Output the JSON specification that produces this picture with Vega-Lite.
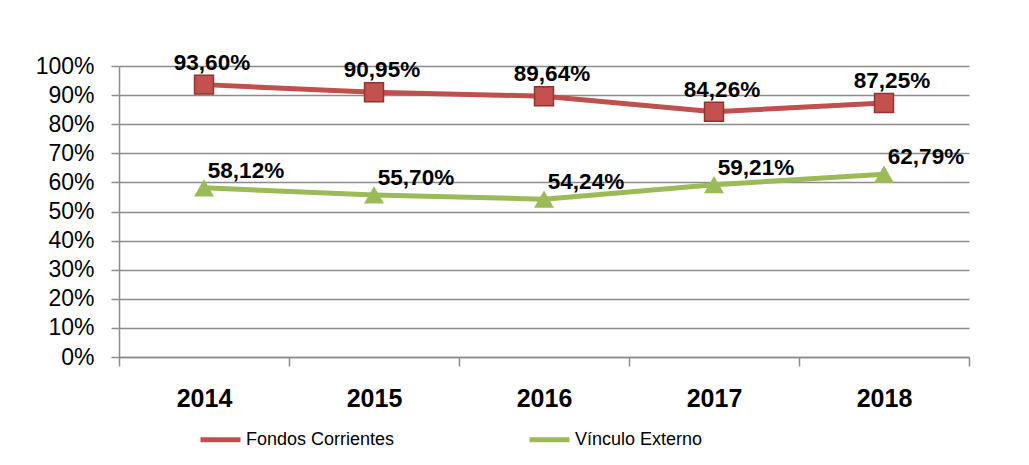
{
  "$schema": "https://vega.github.io/schema/vega-lite/v6.json",
  "width": 850,
  "height": 291,
  "autosize": {"type": "none"},
  "padding": {"left": 119, "top": 66, "right": 60, "bottom": 108},
  "background": "white",
  "config": {
    "locale": {"number": {"decimal": ",", "thousands": ".", "grouping": [3], "currency": ["", " €"]}},
    "view": {"stroke": null},
    "font": "Liberation Sans"
  },
  "data": {
    "values": [
      {"year": "2014", "series": "Fondos Corrientes", "value": 0.9360},
      {"year": "2015", "series": "Fondos Corrientes", "value": 0.9095},
      {"year": "2016", "series": "Fondos Corrientes", "value": 0.8964},
      {"year": "2017", "series": "Fondos Corrientes", "value": 0.8426},
      {"year": "2018", "series": "Fondos Corrientes", "value": 0.8725},
      {"year": "2014", "series": "Vínculo Externo", "value": 0.5812},
      {"year": "2015", "series": "Vínculo Externo", "value": 0.5570},
      {"year": "2016", "series": "Vínculo Externo", "value": 0.5424},
      {"year": "2017", "series": "Vínculo Externo", "value": 0.5921},
      {"year": "2018", "series": "Vínculo Externo", "value": 0.6279}
    ]
  },
  "encoding": {
    "x": {
      "field": "year", "type": "nominal",
      "scale": {"type": "band", "paddingInner": 0, "paddingOuter": 0},
      "axis": {
        "title": null, "labelAngle": 0, "tickBand": "extent", "grid": false,
        "domainColor": "#8c8c8c", "domainWidth": 1.5, "tickColor": "#8c8c8c", "tickWidth": 1.5, "tickSize": 9,
        "labelFont": "Liberation Sans", "labelFontSize": 25, "labelFontWeight": "bold", "labelColor": "#000000",
        "labelPadding": 20
      }
    },
    "y": {
      "field": "value", "type": "quantitative",
      "scale": {"domain": [0, 1], "nice": false},
      "axis": {
        "title": null, "format": ".0%", "values": [0, 0.1, 0.2, 0.3, 0.4, 0.5, 0.6, 0.7, 0.8, 0.9, 1],
        "labelOverlap": false, "labelBound": false,
        "grid": true, "gridColor": "#8c8c8c", "gridWidth": 1.5,
        "domainColor": "#8c8c8c", "domainWidth": 1.5, "tickColor": "#8c8c8c", "tickWidth": 1.5, "tickSize": 8,
        "labelFont": "Liberation Sans", "labelFontSize": 23, "labelColor": "#000000", "labelPadding": 17
      }
    }
  },
  "layer": [
    {
      "mark": {"type": "line", "strokeWidth": 5},
      "encoding": {
        "color": {
          "field": "series", "type": "nominal",
          "scale": {"domain": ["Fondos Corrientes", "Vínculo Externo"], "range": ["#C0504D", "#9BBB59"]},
          "legend": {
            "title": null, "orient": "none", "direction": "horizontal", "legendX": 79, "legendY": 351,
            "symbolType": "stroke", "symbolSize": 1600, "symbolStrokeWidth": 5,
            "labelFont": "Liberation Sans", "labelFontSize": 18, "labelColor": "#000000", "labelOffset": 3,
            "columnPadding": 124, "labelLimit": 300
          }
        }
      }
    },
    {
      "transform": [{"filter": "datum.series === 'Fondos Corrientes'"}],
      "mark": {"type": "point", "shape": "square", "size": 360, "filled": true, "fill": "#C4514E", "stroke": "#8E3533", "strokeWidth": 1.5, "opacity": 1}
    },
    {
      "transform": [{"filter": "datum.series === 'Vínculo Externo'"}],
      "mark": {"type": "point", "shape": "triangle-up", "size": 400, "filled": true, "fill": "#9BBB59", "opacity": 1}
    },
    {
      "transform": [{"filter": "datum.series === 'Fondos Corrientes'"}],
      "mark": {"type": "text", "font": "Liberation Sans", "fontSize": 22.5, "fontWeight": "bold", "color": "#000000", "dx": 8, "dy": -22},
      "encoding": {"text": {"field": "value", "type": "quantitative", "format": ".2%"}}
    },
    {
      "transform": [{"filter": "datum.series === 'Vínculo Externo'"}],
      "mark": {"type": "text", "font": "Liberation Sans", "fontSize": 22.5, "fontWeight": "bold", "color": "#000000", "dx": 42, "dy": -17},
      "encoding": {"text": {"field": "value", "type": "quantitative", "format": ".2%"}}
    }
  ]
}
